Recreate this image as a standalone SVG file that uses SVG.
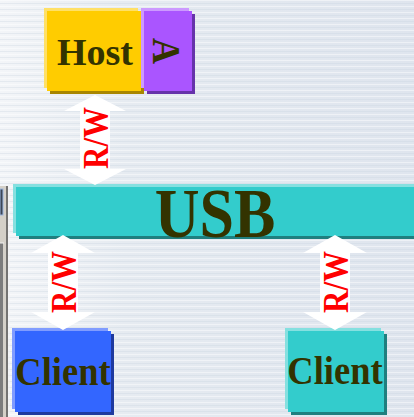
<svg xmlns="http://www.w3.org/2000/svg" width="414" height="417" viewBox="0 0 414 417">
  <defs>
    <linearGradient id="bgGrad" x1="0" y1="0" x2="1" y2="0">
      <stop offset="0" stop-color="#f3f5f8"/>
      <stop offset="0.3" stop-color="#e6ebf1"/>
      <stop offset="1" stop-color="#dfe5ee"/>
    </linearGradient>
    <pattern id="stripes" width="414" height="6" patternUnits="userSpaceOnUse">
      <rect x="0" y="0" width="414" height="1" fill="#ffffff" opacity="0.45"/>
      <rect x="0" y="3" width="414" height="1" fill="#c9d2de" opacity="0.35"/>
    </pattern>
    <style>
      .lbl { font-family: "Liberation Serif", "Times New Roman", serif; font-weight: bold; fill: #333300; text-anchor: middle; }
      .rw { font-family: "Liberation Serif", "Times New Roman", serif; font-weight: bold; fill: #ff0000; font-size: 31px; text-anchor: middle; }
      .arrow { fill: #ffffff; }
    </style>
  </defs>

  <!-- slide background -->
  <rect x="0" y="0" width="414" height="417" fill="url(#bgGrad)"/>
  <rect x="0" y="0" width="414" height="417" fill="url(#stripes)"/>

  <!-- window frame strip on the left edge -->
  <g id="frame">
    <rect x="0" y="186" width="8" height="231" fill="#d4d0c8"/>
    <rect x="0" y="189" width="3" height="26" fill="#3c4656" stroke="#9bb5de" stroke-width="1"/>
    <rect x="0" y="243" width="3" height="174" fill="#7c7c7c"/>
    <line x1="0" y1="243" x2="4" y2="243" stroke="#f0f0f0" stroke-width="1"/>
    <line x1="7" y1="186" x2="7" y2="417" stroke="#555555" stroke-width="1.5"/>
    <line x1="9" y1="186" x2="9" y2="417" stroke="#f4f4f4" stroke-width="1"/>
  </g>

  <!-- Host -->
  <g id="host">
    <rect x="44" y="8" width="94" height="80" fill="#ffe066"/>
    <rect x="50" y="14" width="94" height="80" fill="#a88600"/>
    <rect x="47" y="11" width="94" height="80" fill="#ffcc00"/>
    <text class="lbl" x="95" y="65" font-size="38">Host</text>
  </g>

  <!-- A -->
  <g id="a-block">
    <rect x="141" y="8" width="48" height="80" fill="#cc99ff"/>
    <rect x="147" y="14" width="48" height="80" fill="#6633aa"/>
    <rect x="144" y="11" width="48" height="80" fill="#aa55ff"/>
    <text class="lbl" font-size="36" transform="translate(153 51) rotate(90) scale(1 1.1)">A</text>
  </g>

  <!-- USB bus -->
  <g id="usb">
    <rect x="13" y="184" width="420" height="49" fill="#85e0e0"/>
    <rect x="19" y="190" width="420" height="49" fill="#1f7f7f"/>
    <rect x="16" y="187" width="420" height="49" fill="#33cccc"/>
    <text class="lbl" font-size="62" transform="translate(215 237) scale(1 1.13)">USB</text>
  </g>

  <!-- Client (left) -->
  <g id="client-left">
    <rect x="12" y="328" width="96" height="81" fill="#809cff"/>
    <rect x="18" y="334" width="96" height="81" fill="#1f3a9e"/>
    <rect x="15" y="331" width="96" height="81" fill="#3366ff"/>
    <text class="lbl" font-size="36.5" transform="translate(63 385) scale(1 1.1)">Client</text>
  </g>

  <!-- Client (right) -->
  <g id="client-right">
    <rect x="285" y="328" width="96" height="81" fill="#85e0e0"/>
    <rect x="291" y="334" width="96" height="81" fill="#1f7f7f"/>
    <rect x="288" y="331" width="96" height="81" fill="#33cccc"/>
    <text class="lbl" font-size="36.5" transform="translate(335 384) scale(1 1.1)">Client</text>
  </g>

  <!-- read/write connectors -->
  <g id="connectors">
    <g id="rw-host">
      <polygon class="arrow" points="95,95 126,111 110,111 110,169 126,169 95,185 64,169 80,169 80,111 64,111"/>
      <text class="rw" transform="translate(107.5 138) rotate(-90) scale(1 1.15)">R/W</text>
    </g>
    <g id="rw-client-left">
      <polygon class="arrow" points="63,235 95,253 78,253 78,312 95,312 63,330 31,312 48,312 48,253 31,253"/>
      <text class="rw" transform="translate(76 282) rotate(-90) scale(1 1.15)">R/W</text>
    </g>
    <g id="rw-client-right">
      <polygon class="arrow" points="335,235 367,253 350,253 350,312 367,312 335,330 303,312 320,312 320,253 303,253"/>
      <text class="rw" transform="translate(347.5 282) rotate(-90) scale(1 1.15)">R/W</text>
    </g>
  </g>
</svg>
